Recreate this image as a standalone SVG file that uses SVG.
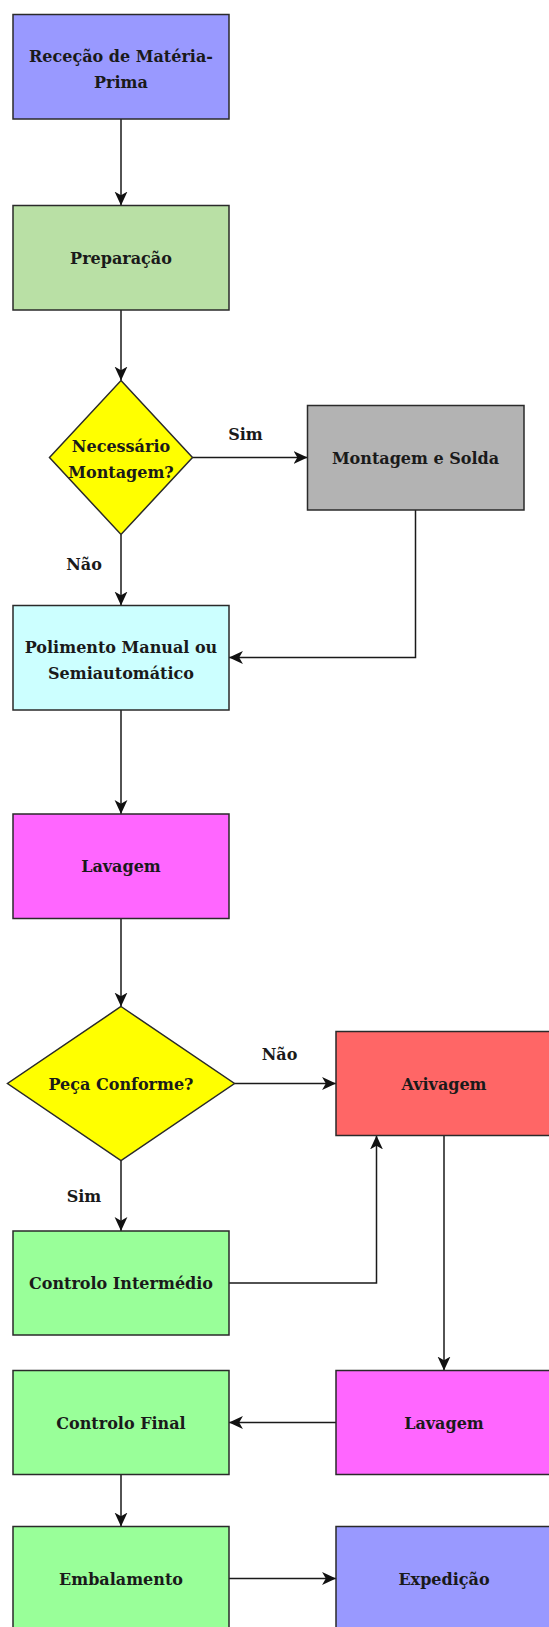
<svg xmlns="http://www.w3.org/2000/svg" width="549" height="1627" viewBox="0 0 549 1627">
  <defs>
    <marker id="arrow" viewBox="0 0 14 14" refX="13" refY="7" markerWidth="15" markerHeight="15" markerUnits="userSpaceOnUse" orient="auto">
      <path d="M0,1 L13,7 L0,13 L3.5,7 Z" fill="#111"/>
    </marker>
    <style>
      .box { stroke: #2a2a2a; stroke-width: 1.5; }
      .lbl { font-family: "DejaVu Serif", "Liberation Serif", serif; font-weight: bold; font-size: 16px; fill: #1a1a1a; text-anchor: middle; }
      .edge { fill: none; stroke: #1a1a1a; stroke-width: 1.5; marker-end: url(#arrow); }
    </style>
  </defs>
  <rect width="549" height="1627" fill="#ffffff"/>

  <!-- connectors -->
  <g id="connectors">
    <path class="edge" d="M121,119 L121,205.5"/>
    <path class="edge" d="M121,310 L121,380.5"/>
    <path class="edge" d="M192.5,457.5 L307.5,457.5"/>
    <path class="edge" d="M121,534.5 L121,605.5"/>
    <path class="edge" d="M415.5,510 L415.5,657.5 L229,657.5"/>
    <path class="edge" d="M121,710 L121,814"/>
    <path class="edge" d="M121,918.5 L121,1006.5"/>
    <path class="edge" d="M234.5,1083.5 L336,1083.5"/>
    <path class="edge" d="M121,1160.5 L121,1231"/>
    <path class="edge" d="M229,1283 L376.5,1283 L376.5,1135.5"/>
    <path class="edge" d="M444,1135.5 L444,1370.5"/>
    <path class="edge" d="M336,1422.5 L229,1422.5"/>
    <path class="edge" d="M121,1474.5 L121,1526.5"/>
    <path class="edge" d="M229,1578.5 L336,1578.5"/>
    <text class="lbl" x="245.5" y="440">Sim</text>
    <text class="lbl" x="84" y="570">Não</text>
    <text class="lbl" x="279.5" y="1060">Não</text>
    <text class="lbl" x="84" y="1202">Sim</text>
  </g>

  <g id="rececao">
    <rect class="box" x="13" y="14.5" width="216" height="104.5" fill="#9999FF"/>
    <text class="lbl" x="121" y="62">Receção de Matéria-</text>
    <text class="lbl" x="121" y="88">Prima</text>
  </g>

  <g id="preparacao">
    <rect class="box" x="13" y="205.5" width="216" height="104.5" fill="#B9E0A5"/>
    <text class="lbl" x="121" y="264">Preparação</text>
  </g>

  <g id="necessario-montagem">
    <polygon class="box" points="121,380.5 192.5,457.5 121,534.5 49.5,457.5" fill="#FFFF00"/>
    <text class="lbl" x="121" y="452">Necessário</text>
    <text class="lbl" x="121" y="478">Montagem?</text>
  </g>

  <g id="montagem-solda">
    <rect class="box" x="307.5" y="405.5" width="216.5" height="104.5" fill="#B3B3B3"/>
    <text class="lbl" x="415.5" y="464">Montagem e Solda</text>
  </g>

  <g id="polimento">
    <rect class="box" x="13" y="605.5" width="216" height="104.5" fill="#CCFFFF"/>
    <text class="lbl" x="121" y="653">Polimento Manual ou</text>
    <text class="lbl" x="121" y="679">Semiautomático</text>
  </g>

  <g id="lavagem-1">
    <rect class="box" x="13" y="814" width="216" height="104.5" fill="#FF66FF"/>
    <text class="lbl" x="121" y="872">Lavagem</text>
  </g>

  <g id="peca-conforme">
    <polygon class="box" points="121,1006.5 234.5,1083.5 121,1160.5 7.5,1083.5" fill="#FFFF00"/>
    <text class="lbl" x="121" y="1090">Peça Conforme?</text>
  </g>

  <g id="avivagem">
    <rect class="box" x="336" y="1031.5" width="216" height="104" fill="#FF6666"/>
    <text class="lbl" x="444" y="1090">Avivagem</text>
  </g>

  <g id="controlo-intermedio">
    <rect class="box" x="13" y="1231" width="216" height="104" fill="#99FF99"/>
    <text class="lbl" x="121" y="1289">Controlo Intermédio</text>
  </g>

  <g id="lavagem-2">
    <rect class="box" x="336" y="1370.5" width="216" height="104" fill="#FF66FF"/>
    <text class="lbl" x="444" y="1429">Lavagem</text>
  </g>

  <g id="controlo-final">
    <rect class="box" x="13" y="1370.5" width="216" height="104" fill="#99FF99"/>
    <text class="lbl" x="121" y="1429">Controlo Final</text>
  </g>

  <g id="embalamento">
    <rect class="box" x="13" y="1526.5" width="216" height="104.5" fill="#99FF99"/>
    <text class="lbl" x="121" y="1585">Embalamento</text>
  </g>

  <g id="expedicao">
    <rect class="box" x="336" y="1526.5" width="216" height="104.5" fill="#9999FF"/>
    <text class="lbl" x="444" y="1585">Expedição</text>
  </g>
</svg>
